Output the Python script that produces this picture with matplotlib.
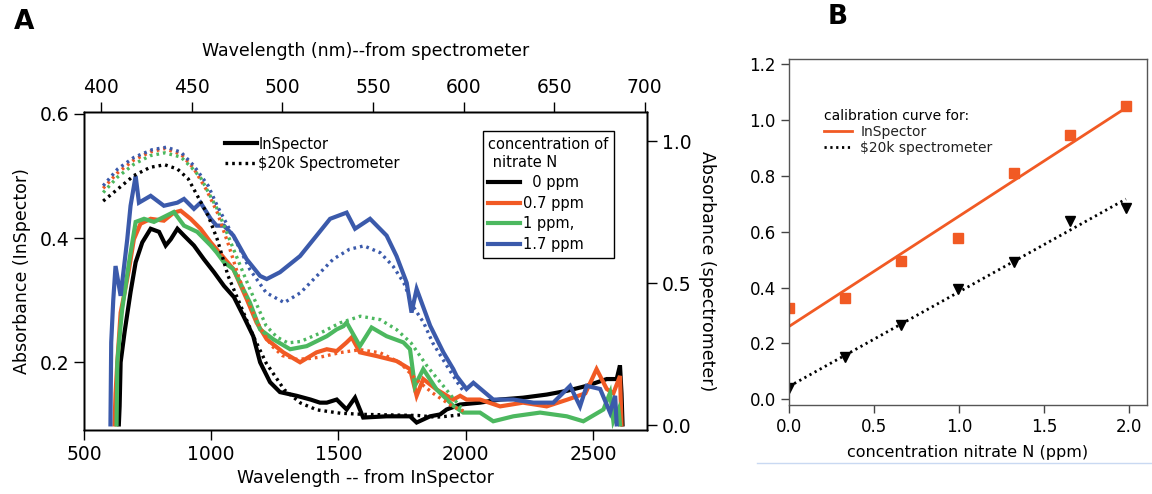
import numpy as np
import matplotlib.pyplot as plt
from matplotlib.lines import Line2D

plt.rcParams['font.family'] = ['DejaVu Sans']

# ---- panel A: InSpector (bottom axis, left axis) ----
wl_0 = [637, 640, 644, 660, 683, 703, 729, 762, 795, 821, 841, 867, 893, 932, 971, 1011, 1050, 1089,
        1126, 1165, 1192, 1231, 1270, 1336, 1390, 1427, 1454, 1493, 1532, 1565, 1597, 1689, 1781, 1807,
        1860, 1899, 1925, 1978, 2056, 2135, 2225, 2318, 2397, 2475, 2554, 2593, 2606, 2612, 2616]
abs_0 = [0.10, 0.129, 0.2, 0.25, 0.313, 0.361, 0.393, 0.415, 0.41, 0.388, 0.398, 0.415, 0.404, 0.388,
         0.366, 0.345, 0.323, 0.305, 0.275, 0.242, 0.2, 0.168, 0.152, 0.146, 0.140, 0.135, 0.135, 0.14,
         0.124, 0.143, 0.111, 0.113, 0.113, 0.103, 0.113, 0.116, 0.124, 0.132, 0.135, 0.14, 0.143, 0.148,
         0.154, 0.162, 0.173, 0.173, 0.195, 0.15, 0.10]

wl_07 = [620, 624, 631, 644, 657, 677, 696, 722, 762, 814, 853, 880, 919, 958, 998, 1021, 1050, 1087,
         1139, 1178, 1218, 1283, 1349, 1414, 1454, 1493, 1532, 1552, 1584, 1650, 1728, 1781, 1807, 1833,
         1886, 1951, 1978, 2003, 2056, 2135, 2225, 2318, 2400, 2470, 2514, 2554, 2580, 2606, 2612]
abs_07 = [0.10, 0.15, 0.2, 0.28, 0.307, 0.35, 0.398, 0.423, 0.431, 0.428, 0.441, 0.444, 0.431, 0.415,
          0.393, 0.382, 0.368, 0.35, 0.302, 0.264, 0.237, 0.216, 0.2, 0.216, 0.221, 0.218, 0.232, 0.24,
          0.216, 0.21, 0.202, 0.189, 0.146, 0.173, 0.156, 0.14, 0.146, 0.14, 0.14, 0.129, 0.135, 0.129,
          0.14, 0.15, 0.189, 0.157, 0.15, 0.178, 0.10]

wl_1 = [628, 631, 640, 650, 677, 703, 736, 775, 814, 853, 893, 945, 998, 1021, 1050, 1087, 1152, 1192,
        1244, 1310, 1375, 1454, 1493, 1519, 1532, 1584, 1630, 1689, 1755, 1781, 1800, 1833, 1886, 1951,
        1990, 2056, 2108, 2187, 2292, 2397, 2462, 2541, 2567, 2580, 2600, 2606]
abs_1 = [0.10, 0.2, 0.242, 0.285, 0.361, 0.426, 0.431, 0.426, 0.434, 0.442, 0.42, 0.41, 0.388, 0.377,
         0.361, 0.35, 0.296, 0.253, 0.237, 0.221, 0.226, 0.242, 0.253, 0.258, 0.264, 0.226, 0.256, 0.242,
         0.232, 0.221, 0.162, 0.189, 0.156, 0.13, 0.119, 0.119, 0.105, 0.113, 0.119, 0.113, 0.105, 0.124,
         0.151, 0.105, 0.124, 0.10]

wl_17 = [604, 607, 615, 624, 644, 670, 683, 703, 716, 762, 814, 867, 893, 932, 958, 998, 1021, 1050,
         1087, 1139, 1192, 1218, 1270, 1349, 1414, 1467, 1532, 1565, 1624, 1689, 1728, 1768, 1787, 1807,
         1860, 1912, 1951, 1964, 2003, 2030, 2108, 2187, 2266, 2344, 2410, 2449, 2475, 2528, 2567, 2587, 2593]
abs_17 = [0.10, 0.232, 0.30, 0.355, 0.307, 0.398, 0.452, 0.50, 0.457, 0.468, 0.452, 0.457, 0.463, 0.447,
          0.457, 0.431, 0.42, 0.42, 0.404, 0.366, 0.339, 0.334, 0.345, 0.371, 0.404, 0.431, 0.441, 0.415,
          0.431, 0.404, 0.371, 0.328, 0.28, 0.318, 0.259, 0.216, 0.189, 0.178, 0.157, 0.167, 0.14, 0.14,
          0.135, 0.135, 0.162, 0.129, 0.162, 0.157, 0.119, 0.146, 0.10]

# ---- panel A: spectrometer (top axis nm, right axis) ----
nm_0 = [401, 409, 418, 427, 435, 442, 448, 453, 459, 464, 470, 477, 484, 491, 501, 510, 519, 532, 545,
        560, 575, 585, 592, 600]
sp_0 = [0.79, 0.832, 0.88, 0.909, 0.918, 0.903, 0.868, 0.809, 0.738, 0.655, 0.526, 0.42, 0.313, 0.219,
        0.125, 0.078, 0.054, 0.042, 0.038, 0.036, 0.034, 0.028, 0.032, 0.038]

nm_07 = [401, 409, 418, 427, 435, 444, 451, 458, 464, 470, 476, 482, 488, 494, 500, 508, 515, 521, 532,
         543, 554, 565, 574, 583, 594, 600]
sp_07 = [0.835, 0.89, 0.935, 0.963, 0.975, 0.955, 0.905, 0.83, 0.75, 0.64, 0.52, 0.42, 0.34, 0.28, 0.245,
         0.232, 0.235, 0.24, 0.256, 0.266, 0.255, 0.22, 0.16, 0.113, 0.066, 0.05]

nm_1 = [401, 409, 418, 427, 435, 444, 451, 455, 464, 473, 482, 491, 497, 503, 510, 521, 532, 543, 554,
        563, 571, 580, 589, 598, 600]
sp_1 = [0.82, 0.875, 0.92, 0.95, 0.96, 0.945, 0.9, 0.87, 0.762, 0.62, 0.48, 0.35, 0.31, 0.29, 0.295,
        0.325, 0.361, 0.384, 0.372, 0.337, 0.29, 0.207, 0.137, 0.066, 0.06]

nm_17 = [401, 409, 418, 428, 436, 444, 451, 459, 464, 470, 475, 482, 491, 501, 510, 519, 528, 537, 545,
         554, 561, 567, 572, 578, 583, 591, 598, 600]
sp_17 = [0.844, 0.903, 0.944, 0.971, 0.98, 0.962, 0.915, 0.844, 0.773, 0.70, 0.64, 0.549, 0.467, 0.432,
         0.467, 0.526, 0.585, 0.62, 0.632, 0.608, 0.561, 0.502, 0.42, 0.361, 0.29, 0.207, 0.137, 0.12]

conc_labels = ['  0 ppm', '0.7 ppm', '1 ppm,', '1.7 ppm']
colors = ['black', '#f15a24', '#4cb85f', '#3b5aab']

# ---- panel B: calibration ----
conc = [0.0, 0.33, 0.66, 0.99, 1.32, 1.65, 1.98]
cal_inspector = [0.326, 0.362, 0.496, 0.577, 0.81, 0.945, 1.049]
cal_spectro = [0.042, 0.153, 0.266, 0.394, 0.493, 0.639, 0.685]

fig = plt.figure(figsize=(11.52, 4.94), dpi=100)

# panel A
ax = fig.add_axes([0.0729, 0.1296, 0.4887, 0.6437])
ax_r = ax.twinx()
ax_t = ax_r.twiny()

solid = [(wl_0, abs_0), (wl_07, abs_07), (wl_1, abs_1), (wl_17, abs_17)]
dotted = [(nm_0, sp_0), (nm_07, sp_07), (nm_1, sp_1), (nm_17, sp_17)]
for (x, y), c in zip(solid, colors):
    ax.plot(x, y, color=c, lw=3, solid_joinstyle='miter')
for (x, y), c in zip(dotted, colors):
    ax_t.plot(x, y, color=c, lw=2.4, ls=(0, (0.8, 1.2)))

ax.set_xlim(500, 2712)
ax.set_ylim(0.091, 0.603)
ax_r.set_ylim(-0.017, 1.104)
ax_t.set_xlim(390.4, 701.3)

ax.set_xticks([500, 1000, 1500, 2000, 2500])
ax.set_yticks([0.2, 0.4, 0.6])
ax_r.set_yticks([0.0, 0.5, 1.0])
ax_t.set_xticks([400, 450, 500, 550, 600, 650, 700])
for a in (ax, ax_r, ax_t):
    a.tick_params(direction='out', length=7, width=1, labelsize=13.5)
    for s in a.spines.values():
        s.set_linewidth(1)

ax.set_xlabel('Wavelength -- from InSpector', fontsize=12.5, labelpad=4)
ax.set_ylabel('Absorbance (InSpector)', fontsize=12.5, labelpad=6)
ax_r.set_ylabel('Absorbance (spectrometer)', fontsize=12.5, rotation=-90, labelpad=18)
ax_t.set_xlabel('Wavelength (nm)--from spectrometer', fontsize=12.5, labelpad=16)

h1 = [Line2D([], [], color='black', lw=3), Line2D([], [], color='black', lw=2.4, ls=(0, (0.8, 1.2)))]
leg1 = ax_t.legend(h1, ['InSpector', r'\$20k Spectrometer'], loc='upper left',
                   bbox_to_anchor=(0.232, 0.955), frameon=False, fontsize=10.5,
                   handlelength=2.2, handletextpad=0.1, labelspacing=0.3, borderpad=0.2)
ax_t.add_artist(leg1)
h2 = [Line2D([], [], color=c, lw=3) for c in colors]
leg2 = ax_t.legend(h2, conc_labels, title='concentration of\n nitrate N', loc='upper left',
                   bbox_to_anchor=(0.695, 0.962), fontsize=10.5, title_fontsize=10.5,
                   alignment='left', fancybox=False, edgecolor='black', framealpha=1,
                   handlelength=2.2, handletextpad=0.15, labelspacing=0.38, borderpad=0.4)
leg2.get_frame().set_linewidth(1)

fig.text(0.012, 0.955, 'A', fontsize=19, fontweight='bold', va='center')

# panel B
bx = fig.add_axes([0.685, 0.1802, 0.3104, 0.7004])
x_fit = np.linspace(min(conc), max(conc), 50)
p_ins = np.polyfit(conc, cal_inspector, 1)
p_spc = np.polyfit(conc, cal_spectro, 1)
bx.plot(x_fit, np.polyval(p_ins, x_fit), color='#f15a24', lw=2)
bx.plot(x_fit, np.polyval(p_spc, x_fit), color='black', lw=2, ls=(0, (0.8, 1.3)))
bx.plot(conc, cal_inspector, 's', color='#f15a24', ms=6.5, ls='none')
bx.plot(conc, cal_spectro, 'v', color='black', ms=7, ls='none')
bx.set_xlim(0, 2.102)
bx.set_ylim(-0.02, 1.218)
bx.set_xticks([0.0, 0.5, 1.0, 1.5, 2.0])
bx.set_yticks([0.0, 0.2, 0.4, 0.6, 0.8, 1.0, 1.2])
bx.set_xticklabels(['0.0', '0.5', '1.0', '1.5', '2.0'])
bx.set_yticklabels(['0.0', '0.2', '0.4', '0.6', '0.8', '1.0', '1.2'])
bx.tick_params(direction='out', length=6, width=1, labelsize=12, color='#444444')
for s in bx.spines.values():
    s.set_linewidth(1)
    s.set_color('#555555')
bx.set_xlabel('concentration nitrate N (ppm)', fontsize=11.5, labelpad=6)

hb = [Line2D([], [], color='#f15a24', lw=2), Line2D([], [], color='black', lw=2, ls=(0, (0.8, 1.3)))]
bx.legend(hb, ['InSpector', r'\$20k spectrometer'], title='calibration curve for:', loc='upper left',
          bbox_to_anchor=(0.075, 0.88), frameon=False, fontsize=10, title_fontsize=10,
          alignment='left', handlelength=2.0, handletextpad=0.6, labelspacing=0.15, borderpad=0.1,
          labelcolor='#222222')

fig.text(0.718, 0.965, 'B', fontsize=19, fontweight='bold', va='center')
fig.add_artist(Line2D([0.657, 1.0], [1 - 463 / 494, 1 - 463 / 494], color='#c9d9f2', lw=1))

fig.savefig('out.png', dpi=100)
